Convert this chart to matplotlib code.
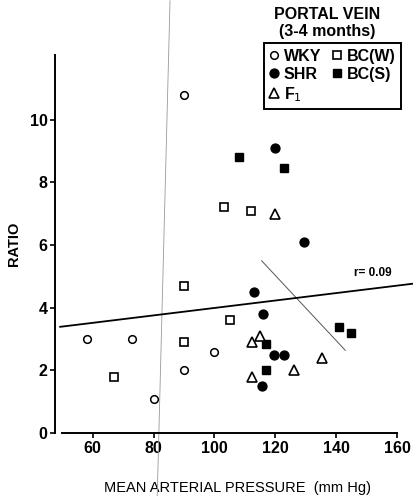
import matplotlib.pyplot as plt
from matplotlib.lines import Line2D

plt.rcParams['font.family'] = ['Liberation Sans', 'DejaVu Sans']

# Mean arterial pressure (mm Hg) and ratio for each group
wky_x = [58, 73, 80, 90, 90, 100]
wky_y = [3.0, 3.0, 1.1, 2.0, 10.8, 2.6]
shr_x = [113, 116, 119.5, 123, 115.7, 120, 129.5]
shr_y = [4.5, 3.8, 2.5, 2.5, 1.5, 9.1, 6.1]
bcw_x = [67, 90, 90, 105, 103, 112]
bcw_y = [1.8, 2.9, 4.7, 3.6, 7.2, 7.1]
bcs_x = [117, 117, 141, 145, 108, 123]
bcs_y = [2.85, 2.0, 3.4, 3.2, 8.8, 8.45]
f1_x = [115, 112.5, 126, 135.5, 112.5, 120]
f1_y = [3.1, 2.9, 2.0, 2.4, 1.8, 7.0]

# regression line (r = 0.09)
reg_x = [49.3, 165.5]
reg_y = [3.39, 4.77]

# faint lines from the scanned page
scan_v_x = [85.4, 81.2]
scan_v_y = [13.8, -2.0]
scan_d_x = [115.5, 143]
scan_d_y = [5.5, 2.64]

fig = plt.figure(figsize=(4.14, 4.97), dpi=100)
ax = fig.add_axes([0.1329, 0.1288, 0.826, 0.7606])

ax.plot(scan_v_x, scan_v_y, color='#999999', lw=0.6, clip_on=False)
ax.plot(scan_d_x, scan_d_y, color='#555555', lw=0.7)
ax.plot(reg_x, reg_y, color='black', lw=1.3, clip_on=False)

ax.plot(wky_x, wky_y, 'o', mfc='white', mec='black', mew=1.1, ms=5.5, ls='none')
ax.plot(bcw_x, bcw_y, 's', mfc='white', mec='black', mew=1.2, ms=5.6, ls='none')
ax.plot(shr_x, shr_y, 'o', mfc='black', mec='black', ms=6.4, ls='none')
ax.plot(bcs_x, bcs_y, 's', mfc='black', mec='black', ms=6.0, ls='none')
ax.plot(f1_x, f1_y, '^', mfc='white', mec='black', mew=1.2, ms=6.5, ls='none')

ax.text(146.0, 5.12, 'r= 0.09', fontsize=8.5, fontweight='bold', va='center')

ax.set_xlim(47.6, 160)
ax.set_ylim(0, 12.07)
ax.spines['top'].set_visible(False)
ax.spines['right'].set_visible(False)
ax.spines['bottom'].set_bounds(50, 160)
ax.spines['left'].set_linewidth(1.4)
ax.spines['bottom'].set_linewidth(1.4)
ax.set_xticks([60, 80, 100, 120, 140, 160])
ax.set_yticks([0, 2, 4, 6, 8, 10])
ax.tick_params(direction='out', length=3.5, width=1.2, labelsize=11.5, pad=2)
for lab in ax.get_xticklabels() + ax.get_yticklabels():
    lab.set_fontweight('bold')

ax.set_xlabel('MEAN ARTERIAL PRESSURE  (mm Hg)', fontsize=10.5, va='center')
ax.xaxis.set_label_coords(0.535, -0.145)
ax.set_ylabel('RATIO', fontsize=10.5, fontweight='bold', labelpad=6)

fig.text(0.79, 0.985, 'PORTAL VEIN\n(3-4 months)', ha='center', va='top',
         fontsize=11.5, fontweight='bold', linespacing=1.1)

handles = [
    Line2D([], [], marker='o', mfc='white', mec='black', mew=1.1, ms=5.5, ls='none'),
    Line2D([], [], marker='o', mfc='black', mec='black', ms=6.4, ls='none'),
    Line2D([], [], marker='^', mfc='white', mec='black', mew=1.2, ms=6.5, ls='none'),
    Line2D([], [], marker='s', mfc='white', mec='black', mew=1.2, ms=5.6, ls='none'),
    Line2D([], [], marker='s', mfc='black', mec='black', ms=6.0, ls='none'),
]
labels = ['WKY', 'SHR', 'F$_1$', 'BC(W)', 'BC(S)']
leg = fig.legend(handles, labels, ncol=2, loc='upper right',
                 bbox_to_anchor=(401 / 414, 1 - 43 / 497), borderaxespad=0,
                 prop={'size': 11.5, 'weight': 'bold'},
                 handlelength=0.6, handletextpad=0.3, columnspacing=0.7,
                 labelspacing=0.2, borderpad=0.35, fancybox=False,
                 edgecolor='black', framealpha=1)
leg.get_frame().set_linewidth(1.4)

fig.savefig('out.png', dpi=100)
